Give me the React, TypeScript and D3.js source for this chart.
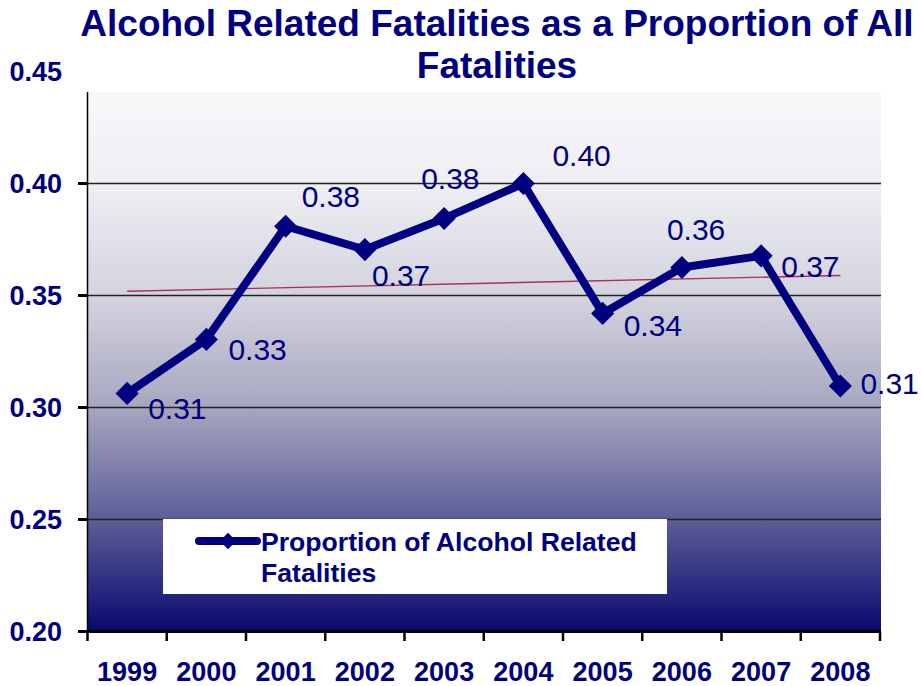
import React from 'react';
import * as d3 from 'd3';

// chart data
const years = ['1999', '2000', '2001', '2002', '2003', '2004', '2005', '2006', '2007', '2008'];
const proportions = [0.3063, 0.3304, 0.3809, 0.3705, 0.3844, 0.400, 0.342, 0.3625, 0.3677, 0.3096];
const valueLabels = ['0.31', '0.33', '0.38', '0.37', '0.38', '0.40', '0.34', '0.36', '0.37', '0.31'];
const yTicks = [0.20, 0.25, 0.30, 0.35, 0.40, 0.45];
const titleLines = ['Alcohol Related Fatalities as a Proportion of All', 'Fatalities'];
const legendLines = ['Proportion of Alcohol Related', 'Fatalities'];

// hand placed label offsets (dx, dy to baseline), as in the original
const labelOffsets: [number, number][] = [
  [21, 26], [22, 21], [16, -19], [7, 36], [-23, -29],
  [29, -18], [21, 23], [-15, -28], [20, 21], [20, 8],
];

const W = 921;
const H = 686;
const NAVY = '#000080';
const FONT = '"Liberation Sans", Arial, sans-serif';

const App = () => {
  const margin = { left: 87.5, right: 880, top: 92, bottom: 631.5 };

  const x = d3.scaleBand<string>()
    .domain(years)
    .range([margin.left, margin.right])
    .padding(0);
  const y = d3.scaleLinear()
    .domain([0.20, 0.45])
    .range([631.5, 71.5]);
  const cx = (d: string) => (x(d) as number) + x.bandwidth() / 2;

  const line = d3.line<number>()
    .x((d, i) => cx(years[i]))
    .y(d => y(d));

  // linear trend over the series
  const idx = years.map((_, i) => i);
  const mx = d3.mean(idx) as number;
  const my = d3.mean(proportions) as number;
  const sxy = d3.sum(idx, i => (i - mx) * (proportions[i] - my));
  const sxx = d3.sum(idx, i => (i - mx) * (i - mx));
  const slope = sxy / sxx;
  const trend = (i: number) => my + slope * (i - mx);

  const diamond = d3.symbol().type(d3.symbolDiamond2).size(340)();
  const legendDiamond = d3.symbol().type(d3.symbolDiamond2).size(170)();

  const boundaries = d3.range(years.length + 1).map(i => margin.left + i * x.step());

  return (
    <svg width={W} height={H} style={{ position: 'absolute', left: 0, top: 0, background: '#fff' }}>
      <defs>
        <linearGradient id="plotBg" x1="0" y1="0" x2="0" y2="1">
          <stop offset="0" stopColor="#f8f8fb" />
          <stop offset="0.17" stopColor="#eeeef3" />
          <stop offset="0.38" stopColor="#d3d3df" />
          <stop offset="0.59" stopColor="#a5a5bf" />
          <stop offset="0.79" stopColor="#5e5e97" />
          <stop offset="0.92" stopColor="#2a2a80" />
          <stop offset="1" stopColor="#08086c" />
        </linearGradient>
      </defs>

      {/* plot area */}
      <rect x={margin.left} y={margin.top} width={margin.right - margin.left + 1}
        height={margin.bottom - margin.top} fill="url(#plotBg)" />

      {/* gridlines */}
      {yTicks.filter(t => t > 0.2 && t < 0.45).map(t => (
        <line key={t} x1={margin.left} x2={margin.right + 1} y1={y(t)} y2={y(t)}
          stroke="#222" strokeWidth={1.5} />
      ))}

      {/* y axis */}
      <line x1={margin.left} x2={margin.left} y1={margin.top} y2={margin.bottom}
        stroke="#000" strokeWidth={1.5} />
      {yTicks.filter(t => t < 0.45).map(t => (
        <line key={'yt' + t} x1={78} x2={margin.left} y1={y(t)} y2={y(t)}
          stroke="#000" strokeWidth={3} />
      ))}
      {yTicks.map(t => (
        <text key={'yl' + t} x={62} y={y(t)} dy="0.36em" textAnchor="end"
          fontFamily={FONT} fontWeight="bold" fontSize={27} fill={NAVY}>
          {t.toFixed(2)}
        </text>
      ))}

      {/* x axis */}
      <line x1={margin.left - 1} x2={margin.right + 1} y1={margin.bottom} y2={margin.bottom}
        stroke="#000" strokeWidth={3} />
      {boundaries.map((b, i) => (
        <line key={'xt' + i} x1={b} x2={b} y1={margin.bottom} y2={641}
          stroke="#000" strokeWidth={2.5} />
      ))}
      {years.map(yr => (
        <text key={'xl' + yr} x={cx(yr)} y={681} textAnchor="middle"
          fontFamily={FONT} fontWeight="bold" fontSize={27} fill={NAVY}>
          {yr}
        </text>
      ))}

      {/* trend line */}
      <line x1={cx(years[0])} x2={cx(years[years.length - 1])}
        y1={y(trend(0))} y2={y(trend(years.length - 1))}
        stroke="#a8305e" strokeWidth={1.4} />

      {/* series */}
      <path d={line(proportions) as string} fill="none" stroke={NAVY} strokeWidth={8}
        strokeLinejoin="round" />
      {proportions.map((v, i) => (
        <path key={'m' + i} d={diamond as string}
          transform={`translate(${cx(years[i])},${y(v)})`} fill={NAVY} />
      ))}
      {proportions.map((v, i) => (
        <text key={'dl' + i} x={cx(years[i]) + labelOffsets[i][0]} y={y(v) + labelOffsets[i][1]}
          fontFamily={FONT} fontSize={30} fill={NAVY}>
          {valueLabels[i]}
        </text>
      ))}

      {/* legend */}
      <rect x={163} y={519} width={504} height={75} fill="#fff" />
      <line x1={199} x2={257} y1={541} y2={541} stroke={NAVY} strokeWidth={8} strokeLinecap="round" />
      <path d={legendDiamond as string} transform="translate(228,541)" fill={NAVY} />
      {legendLines.map((t, i) => (
        <text key={'lg' + i} x={261} y={551 + i * 31} fontFamily={FONT} fontWeight="bold"
          fontSize={26.6} fill={NAVY}>
          {t}
        </text>
      ))}

      {/* title */}
      {titleLines.map((t, i) => (
        <text key={'tt' + i} x={497} y={36 + i * 42} textAnchor="middle" fontFamily={FONT}
          fontWeight="bold" fontSize={37} fill={NAVY}>
          {t}
        </text>
      ))}
    </svg>
  );
};

export default App;
